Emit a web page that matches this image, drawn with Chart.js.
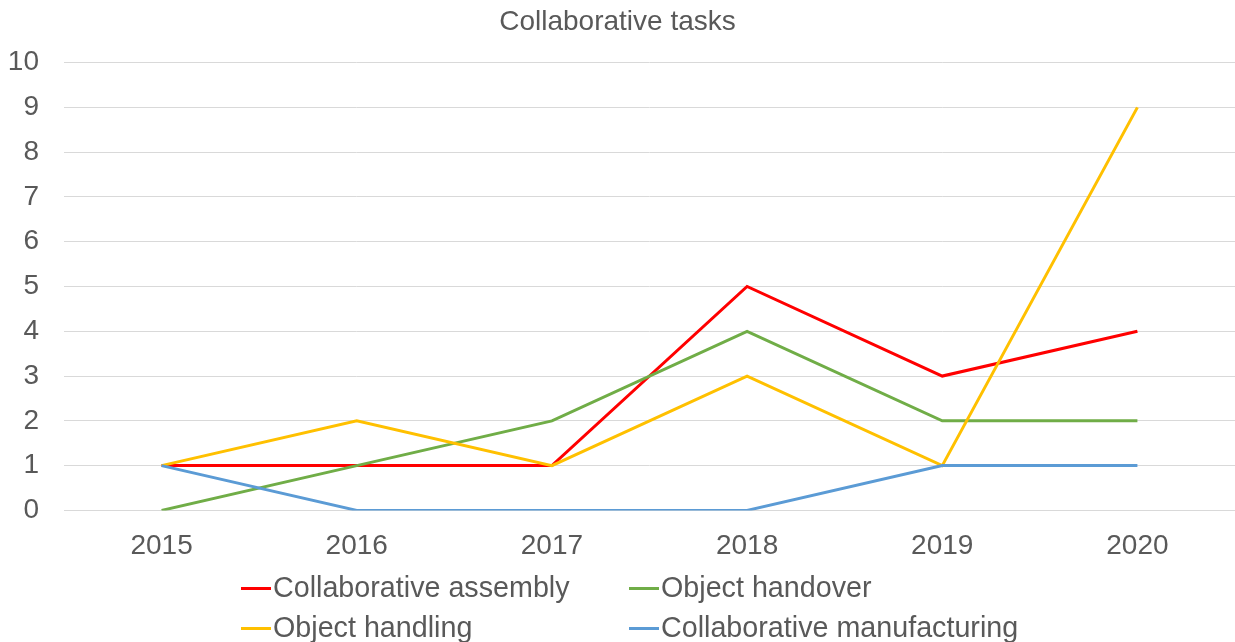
<!DOCTYPE html>
<html>
<head>
<meta charset="utf-8">
<script src="https://cdn.jsdelivr.net/npm/chart.js@4/dist/chart.umd.min.js"></script>
<style>
  html, body { margin: 0; padding: 0; background: #fff; overflow: hidden; }
  #wrap { position: relative; width: 1235px; height: 642px; overflow: hidden; }
  #legend {
    position: absolute; left: 241px; top: 567px;
    display: grid; grid-template-columns: 388px 420px; grid-auto-rows: 40px;
    font-family: "Liberation Sans", Arial, sans-serif; font-size: 28.7px; color: #595959;
  }
  .item { display: flex; align-items: center; white-space: nowrap; }
  .swatch { width: 30px; height: 3px; margin-right: 2px; margin-top: 3px; }
</style>
</head>
<body>
<div id="wrap">
  <canvas id="chart" width="1235" height="642"></canvas>
  <div id="legend"></div>
</div>
<script>
// chart data
const years = ['2015', '2016', '2017', '2018', '2019', '2020'];
const seriesNames = ['Collaborative assembly', 'Object handover', 'Object handling', 'Collaborative manufacturing'];
const assembly = [1, 1, 1, 5, 3, 4];
const handover = [0, 1, 2, 4, 2, 2];
const handling = [1, 2, 1, 3, 1, 9];
const manufacturing = [1, 0, 0, 0, 1, 1];
const colors = ['#FF0000', '#70AD47', '#FFC000', '#5B9BD5'];

const values = [assembly, handover, handling, manufacturing];
const datasets = seriesNames.map((name, i) => ({
    label: name,
    data: values[i],
    borderColor: colors[i],
    backgroundColor: colors[i],
    borderWidth: 3,
    pointRadius: 0,
    tension: 0,
    fill: false,
    order: 3 - i // later series drawn on top, like the original
}));

const textColor = '#595959';
const font = { family: '"Liberation Sans", Arial, sans-serif', size: 28 };

new Chart(document.getElementById('chart'), {
    type: 'line',
    data: { labels: years, datasets: datasets },
    options: {
        responsive: false,
        animation: false,
        layout: { padding: { left: 0, right: 0, top: 0, bottom: 60 } },
        plugins: {
            legend: { display: false },
            tooltip: { enabled: false },
            title: {
                display: true,
                text: 'Collaborative tasks',
                color: textColor,
                font: { ...font, weight: 'normal' },
                padding: { top: 5, bottom: 24 }
            }
        },
        scales: {
            x: {
                offset: true,
                grid: { display: false, drawTicks: false },
                border: { display: true, color: '#D9D9D9', width: 1 },
                ticks: { color: textColor, font: font, padding: 19 }
            },
            y: {
                min: 0,
                max: 10,
                grid: { color: '#D9D9D9', drawTicks: false },
                border: { display: false },
                ticks: { stepSize: 1, color: textColor, font: font, padding: 25 },
                afterFit: (scale) => { scale.width = 64; }
            }
        }
    }
});

// legend laid out in two columns like the original
const legend = document.getElementById('legend');
seriesNames.forEach((name, i) => {
    const item = document.createElement('div');
    item.className = 'item';
    const sw = document.createElement('span');
    sw.className = 'swatch';
    sw.style.background = colors[i];
    item.appendChild(sw);
    item.appendChild(document.createTextNode(name));
    legend.appendChild(item);
});
</script>
</body>
</html>
